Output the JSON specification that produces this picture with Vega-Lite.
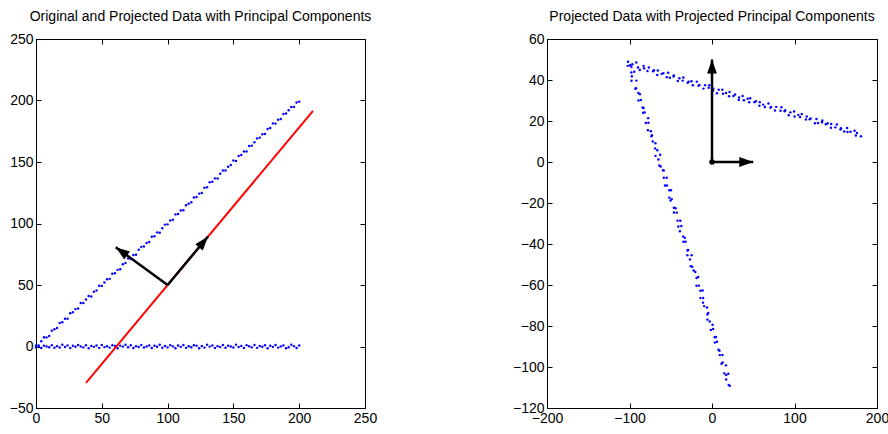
{
  "$schema": "https://vega.github.io/schema/vega-lite/v6.json",
  "padding": {"left": 8, "top": 9, "right": 2, "bottom": 0},
  "bounds": "flush",
  "spacing": 182,
  "config": {
    "view": {"stroke": "black", "strokeWidth": 1},
    "font": "Liberation Sans",
    "axis": {"grid": false, "domainColor": "black", "domainWidth": 1, "tickColor": "black", "tickSize": -5, "labelPadding": 8, "labelFontSize": 14, "labelColor": "black", "labelFont": "Liberation Sans", "labelFlush": false, "labelOverlap": false, "labelBound": false},
    "title": {"fontSize": 14, "font": "Liberation Sans", "fontWeight": "normal", "color": "black", "anchor": "middle", "offset": 8}
  },
  "datasets": {
    "L": [
      {"x":0,"y":0.8},{"x":2,"y":0.8},{"x":4,"y":4.3},{"x":6,"y":7.5},{"x":8,"y":7.4},{"x":10,"y":8.6},{"x":12,"y":12.9},{"x":14,"y":14.1},{"x":16,"y":15.1},{"x":18,"y":19.2},{"x":20,"y":19.7},{"x":22,"y":22.6},{"x":24,"y":22.5},{"x":26,"y":27.0},{"x":28,"y":27.8},{"x":30,"y":30.4},{"x":32,"y":30.9},{"x":34,"y":35.3},{"x":36,"y":35.3},{"x":38,"y":38.2},{"x":40,"y":41.1},{"x":42,"y":40.7},{"x":44,"y":44.5},{"x":46,"y":45.6},{"x":48,"y":49.4},{"x":50,"y":49.2},{"x":52,"y":52.0},{"x":54,"y":54.7},{"x":56,"y":55.0},{"x":58,"y":59.2},{"x":60,"y":59.5},{"x":62,"y":62.3},{"x":64,"y":62.8},{"x":66,"y":66.9},{"x":68,"y":67.9},{"x":70,"y":71.5},{"x":72,"y":71.1},{"x":74,"y":74.4},{"x":76,"y":74.6},{"x":78,"y":78.6},{"x":80,"y":81.0},{"x":82,"y":81.4},{"x":84,"y":84.2},{"x":86,"y":84.9},{"x":88,"y":89.3},{"x":90,"y":89.7},{"x":92,"y":92.8},{"x":94,"y":92.5},{"x":96,"y":96.1},{"x":98,"y":99.1},{"x":100,"y":99.3},{"x":102,"y":102.5},{"x":104,"y":103.0},{"x":106,"y":107.4},{"x":108,"y":107.8},{"x":110,"y":110.6},{"x":112,"y":110.7},{"x":114,"y":114.9},{"x":116,"y":116.0},{"x":118,"y":117.2},{"x":120,"y":121.2},{"x":122,"y":121.6},{"x":124,"y":124.3},{"x":126,"y":124.8},{"x":128,"y":129.0},{"x":130,"y":129.4},{"x":132,"y":133.5},{"x":134,"y":133.9},{"x":136,"y":136.7},{"x":138,"y":136.6},{"x":140,"y":140.4},{"x":142,"y":143.1},{"x":144,"y":143.1},{"x":146,"y":146.2},{"x":148,"y":147.5},{"x":150,"y":151.3},{"x":152,"y":150.9},{"x":154,"y":154.8},{"x":156,"y":155.7},{"x":158,"y":158.5},{"x":160,"y":158.5},{"x":162,"y":163.0},{"x":164,"y":163.3},{"x":166,"y":166.1},{"x":168,"y":169.2},{"x":170,"y":169.8},{"x":172,"y":172.6},{"x":174,"y":172.7},{"x":176,"y":176.9},{"x":178,"y":177.6},{"x":180,"y":181.4},{"x":182,"y":181.2},{"x":184,"y":184.3},{"x":186,"y":185.0},{"x":188,"y":189.1},{"x":190,"y":189.4},{"x":192,"y":192.0},{"x":194,"y":194.7},{"x":196,"y":194.8},{"x":198,"y":198.4},{"x":200,"y":199.1},
      {"x":0,"y":-0.9},{"x":2,"y":0.4},{"x":4,"y":-1.2},{"x":6,"y":0.7},{"x":8,"y":0.0},{"x":10,"y":-0.6},{"x":12,"y":1.1},{"x":14,"y":-1.0},{"x":16,"y":0.3},{"x":18,"y":-0.8},{"x":20,"y":1.4},{"x":22,"y":-0.4},{"x":24,"y":0.9},{"x":26,"y":-1.3},{"x":28,"y":0.6},{"x":30,"y":-0.2},{"x":32,"y":1.2},{"x":34,"y":0.1},{"x":36,"y":-0.7},{"x":38,"y":1.0},{"x":40,"y":-1.5},{"x":42,"y":0.5},{"x":44,"y":-0.3},{"x":46,"y":0.8},{"x":48,"y":-1.1},{"x":50,"y":1.3},{"x":52,"y":-0.5},{"x":54,"y":0.2},{"x":56,"y":-0.9},{"x":58,"y":1.1},{"x":60,"y":0.4},{"x":62,"y":-1.4},{"x":64,"y":0.7},{"x":66,"y":-0.1},{"x":68,"y":1.5},{"x":70,"y":-0.6},{"x":72,"y":1.0},{"x":74,"y":-1.2},{"x":76,"y":0.3},{"x":78,"y":-0.4},{"x":80,"y":1.2},{"x":82,"y":-0.8},{"x":84,"y":0.0},{"x":86,"y":0.9},{"x":88,"y":-1.3},{"x":90,"y":0.6},{"x":92,"y":-0.2},{"x":94,"y":1.4},{"x":96,"y":-1.0},{"x":98,"y":0.5},{"x":100,"y":-0.7},{"x":102,"y":1.1},{"x":104,"y":0.1},{"x":106,"y":-1.5},{"x":108,"y":0.8},{"x":110,"y":-0.3},{"x":112,"y":1.3},{"x":114,"y":-1.1},{"x":116,"y":0.2},{"x":118,"y":-0.6},{"x":120,"y":1.0},{"x":122,"y":0.6},{"x":124,"y":-1.4},{"x":126,"y":0.4},{"x":128,"y":-0.9},{"x":130,"y":1.5},{"x":132,"y":-0.1},{"x":134,"y":0.9},{"x":136,"y":-1.2},{"x":138,"y":0.3},{"x":140,"y":-0.5},{"x":142,"y":1.2},{"x":144,"y":-1.0},{"x":146,"y":0.7},{"x":148,"y":0.0},{"x":150,"y":-0.8},{"x":152,"y":1.4},{"x":154,"y":-0.4},{"x":156,"y":0.5},{"x":158,"y":-1.3},{"x":160,"y":1.1},{"x":162,"y":0.2},{"x":164,"y":-0.7},{"x":166,"y":1.3},{"x":168,"y":-1.1},{"x":170,"y":0.4},{"x":172,"y":-0.2},{"x":174,"y":1.0},{"x":176,"y":-1.5},{"x":178,"y":0.6},{"x":180,"y":-0.3},{"x":182,"y":1.2},{"x":184,"y":-0.9},{"x":186,"y":0.1},{"x":188,"y":0.9},{"x":190,"y":-1.4},{"x":192,"y":-0.6},{"x":194,"y":1.5},{"x":196,"y":0.3},{"x":198,"y":-1.2},{"x":200,"y":0.8}
    ],
    "LR": [{"x":38,"y":-29.5},{"x":210.5,"y":191.6}],
    "LA": [{"x0":100,"y0":50,"x1":130.7,"y1":89.4,"ang":39.8},{"x0":100,"y0":50,"x1":60.6,"y1":80.75,"ang":-53.9}],
    "R": [
      {"x":-101.8,"y":48.9},{"x":-97.7,"y":46.5},{"x":-96.5,"y":47.7},{"x":-91.8,"y":48.5},{"x":-89.7,"y":46.1},{"x":-87.5,"y":44.9},{"x":-83.0,"y":46.9},{"x":-82.3,"y":45.7},{"x":-78.2,"y":44.4},{"x":-76.5,"y":46.1},{"x":-71.4,"y":44.3},{"x":-70.4,"y":44.8},{"x":-66.3,"y":42.4},{"x":-65.7,"y":44.6},{"x":-61.0,"y":43.0},{"x":-59.0,"y":43.3},{"x":-54.8,"y":41.4},{"x":-53.1,"y":43.5},{"x":-51.1,"y":41.1},{"x":-46.6,"y":41.7},{"x":-46.3,"y":42.2},{"x":-41.5,"y":39.5},{"x":-39.5,"y":40.9},{"x":-35.6,"y":39.7},{"x":-34.7,"y":41.2},{"x":-29.5,"y":38.6},{"x":-28.4,"y":39.1},{"x":-24.9,"y":39.4},{"x":-23.2,"y":37.4},{"x":-18.4,"y":39.2},{"x":-16.3,"y":37.2},{"x":-15.3,"y":37.6},{"x":-10.4,"y":35.8},{"x":-8.4,"y":37.5},{"x":-4.0,"y":36.2},{"x":-3.3,"y":37.4},{"x":1.1,"y":34.7},{"x":1.7,"y":35.7},{"x":6.0,"y":33.5},{"x":8.1,"y":35.2},{"x":12.5,"y":35.2},{"x":13.4,"y":33.3},{"x":17.0,"y":33.7},{"x":20.7,"y":32.1},{"x":21.3,"y":34.1},{"x":26.0,"y":32.2},{"x":28.0,"y":32.9},{"x":32.4,"y":30.3},{"x":32.8,"y":31.5},{"x":37.1,"y":32.2},{"x":38.7,"y":30.1},{"x":43.3,"y":30.9},{"x":45.1,"y":29.1},{"x":46.3,"y":31.1},{"x":51.4,"y":29.2},{"x":53.1,"y":29.6},{"x":57.5,"y":27.4},{"x":57.9,"y":29.2},{"x":62.1,"y":28.0},{"x":64.1,"y":26.8},{"x":68.5,"y":28.5},{"x":70.9,"y":26.5},{"x":71.7,"y":26.9},{"x":76.3,"y":25.1},{"x":77.8,"y":26.9},{"x":83.0,"y":25.0},{"x":84.2,"y":26.7},{"x":88.0,"y":24.8},{"x":88.7,"y":25.2},{"x":93.0,"y":22.8},{"x":95.0,"y":24.2},{"x":99.5,"y":24.6},{"x":100.1,"y":22.2},{"x":104.6,"y":23.0},{"x":106.7,"y":22.0},{"x":108.8,"y":23.4},{"x":113.8,"y":20.7},{"x":114.8,"y":22.2},{"x":118.5,"y":20.8},{"x":119.5,"y":21.2},{"x":124.7,"y":18.9},{"x":126.6,"y":21.0},{"x":128.5,"y":19.0},{"x":133.3,"y":19.4},{"x":133.7,"y":20.2},{"x":138.0,"y":18.4},{"x":140.2,"y":18.9},{"x":144.2,"y":16.7},{"x":144.5,"y":18.5},{"x":149.4,"y":16.9},{"x":151.3,"y":18.3},{"x":155.7,"y":15.8},{"x":156.4,"y":16.5},{"x":160.2,"y":14.9},{"x":163.8,"y":16.6},{"x":164.3,"y":14.6},{"x":167.9,"y":14.8},{"x":172.8,"y":15.2},{"x":174.4,"y":12.9},{"x":175.7,"y":14.2},{"x":180.5,"y":12.6},
      {"x":-99.3,"y":47.2},{"x":-102.1,"y":46.9},{"x":-97.8,"y":43.7},{"x":-94.2,"y":44.0},{"x":-97.2,"y":41.8},{"x":-97.6,"y":39.6},{"x":-91.7,"y":39.7},{"x":-92.1,"y":36.0},{"x":-92.9,"y":35.7},{"x":-87.4,"y":33.1},{"x":-89.2,"y":33.7},{"x":-86.2,"y":30.3},{"x":-89.1,"y":30.0},{"x":-82.9,"y":26.3},{"x":-84.1,"y":26.6},{"x":-81.7,"y":24.2},{"x":-83.4,"y":24.0},{"x":-77.4,"y":21.4},{"x":-80.2,"y":19.0},{"x":-77.1,"y":19.1},{"x":-74.1,"y":15.0},{"x":-77.7,"y":15.5},{"x":-72.8,"y":13.1},{"x":-73.4,"y":12.6},{"x":-68.6,"y":9.1},{"x":-71.8,"y":10.0},{"x":-68.9,"y":6.6},{"x":-66.3,"y":5.7},{"x":-68.5,"y":3.0},{"x":-62.8,"y":3.5},{"x":-65.0,"y":1.2},{"x":-62.2,"y":-2.2},{"x":-63.9,"y":-1.7},{"x":-58.5,"y":-4.1},{"x":-59.3,"y":-4.0},{"x":-54.9,"y":-7.7},{"x":-58.4,"y":-7.7},{"x":-54.6,"y":-11.5},{"x":-57.0,"y":-11.5},{"x":-51.7,"y":-13.8},{"x":-49.7,"y":-13.8},{"x":-51.7,"y":-17.4},{"x":-48.8,"y":-18.1},{"x":-50.2,"y":-18.8},{"x":-44.2,"y":-22.6},{"x":-46.2,"y":-22.3},{"x":-42.7,"y":-24.7},{"x":-46.1,"y":-24.6},{"x":-41.7,"y":-28.6},{"x":-38.4,"y":-28.7},{"x":-40.8,"y":-31.5},{"x":-37.2,"y":-31.2},{"x":-38.9,"y":-33.8},{"x":-32.9,"y":-37.0},{"x":-34.9,"y":-36.3},{"x":-32.1,"y":-38.9},{"x":-34.6,"y":-38.9},{"x":-29.0,"y":-42.9},{"x":-29.6,"y":-43.2},{"x":-29.9,"y":-45.5},{"x":-24.7,"y":-45.5},{"x":-26.7,"y":-47.5},{"x":-24.0,"y":-51.1},{"x":-25.8,"y":-50.8},{"x":-20.2,"y":-53.7},{"x":-22.2,"y":-52.9},{"x":-16.7,"y":-56.1},{"x":-18.7,"y":-56.6},{"x":-15.9,"y":-60.3},{"x":-18.8,"y":-60.4},{"x":-14.0,"y":-62.8},{"x":-11.4,"y":-62.7},{"x":-14.1,"y":-66.4},{"x":-10.7,"y":-66.3},{"x":-10.9,"y":-68.6},{"x":-6.1,"y":-71.0},{"x":-9.6,"y":-70.3},{"x":-4.6,"y":-73.7},{"x":-5.6,"y":-74.4},{"x":-2.7,"y":-77.8},{"x":-5.5,"y":-76.9},{"x":0.7,"y":-79.4},{"x":-1.4,"y":-81.9},{"x":1.4,"y":-81.5},{"x":4.8,"y":-85.4},{"x":3.3,"y":-85.5},{"x":6.1,"y":-87.7},{"x":3.5,"y":-88.1},{"x":9.1,"y":-92.1},{"x":7.8,"y":-91.6},{"x":12.6,"y":-94.1},{"x":9.4,"y":-94.2},{"x":12.9,"y":-97.8},{"x":11.5,"y":-98.4},{"x":16.9,"y":-99.2},{"x":14.8,"y":-103.1},{"x":17.2,"y":-103.9},{"x":19.8,"y":-103.3},{"x":17.2,"y":-106.1},{"x":21.7,"y":-109.2},{"x":20.3,"y":-108.8}
    ],
    "RA": [{"x0":0,"y0":0,"x1":50,"y1":0,"ang":90},{"x0":0,"y0":0,"x1":0,"y1":50,"ang":0}],
    "RO": [{"x":0,"y":0}]
  },
  "hconcat": [
    {
      "width": 329, "height": 369,
      "title": {"text": "Original and Projected Data with Principal Components"},
      "resolve": {"axis": {"x": "independent", "y": "independent"}},
      "layer": [
        {
          "data": {"name": "L"},
          "mark": {"type": "point", "filled": true, "shape": "circle", "size": 6, "color": "#0000ff", "opacity": 1},
          "encoding": {
            "x": {"field": "x", "type": "quantitative", "scale": {"domain": [0, 250], "nice": false, "zero": false}, "axis": {"values": [0, 50, 100, 150, 200, 250], "title": null}},
            "y": {"field": "y", "type": "quantitative", "scale": {"domain": [-50, 250], "nice": false, "zero": false}, "axis": {"values": [-50, 0, 50, 100, 150, 200, 250], "title": null}}
          }
        },
        {
          "data": {"name": "LR"},
          "mark": {"type": "line", "color": "#ff0000", "strokeWidth": 2},
          "encoding": {
            "x": {"field": "x", "type": "quantitative", "axis": {"orient": "top", "values": [0, 50, 100, 150, 200, 250], "labels": false, "title": null}},
            "y": {"field": "y", "type": "quantitative", "axis": {"orient": "right", "values": [-50, 0, 50, 100, 150, 200, 250], "labels": false, "title": null}}
          }
        },
        {
          "data": {"name": "LA"},
          "mark": {"type": "rule", "color": "black", "strokeWidth": 2.5},
          "encoding": {
            "x": {"field": "x0", "type": "quantitative", "axis": null},
            "y": {"field": "y0", "type": "quantitative", "axis": null},
            "x2": {"field": "x1"},
            "y2": {"field": "y1"}
          }
        },
        {
          "data": {"name": "LA"},
          "mark": {"type": "point", "filled": true, "opacity": 1, "color": "black", "shape": "M0,0L-0.7,2L0.7,2Z", "size": 196},
          "encoding": {
            "x": {"field": "x1", "type": "quantitative", "axis": null},
            "y": {"field": "y1", "type": "quantitative", "axis": null},
            "angle": {"field": "ang", "type": "quantitative", "scale": null}
          }
        }
      ]
    },
    {
      "width": 330, "height": 369,
      "title": {"text": "Projected Data with Projected Principal Components"},
      "resolve": {"axis": {"x": "independent", "y": "independent"}},
      "layer": [
        {
          "data": {"name": "R"},
          "mark": {"type": "point", "filled": true, "shape": "circle", "size": 6, "color": "#0000ff", "opacity": 1},
          "encoding": {
            "x": {"field": "x", "type": "quantitative", "scale": {"domain": [-200, 200], "nice": false, "zero": false}, "axis": {"values": [-200, -100, 0, 100, 200], "title": null}},
            "y": {"field": "y", "type": "quantitative", "scale": {"domain": [-120, 60], "nice": false, "zero": false}, "axis": {"values": [-120, -100, -80, -60, -40, -20, 0, 20, 40, 60], "title": null}}
          }
        },
        {
          "data": {"name": "RA"},
          "mark": {"type": "rule", "color": "black", "strokeWidth": 2.5},
          "encoding": {
            "x": {"field": "x0", "type": "quantitative", "axis": {"orient": "top", "values": [-200, -100, 0, 100, 200], "labels": false, "title": null}},
            "y": {"field": "y0", "type": "quantitative", "axis": {"orient": "right", "values": [-120, -100, -80, -60, -40, -20, 0, 20, 40, 60], "labels": false, "title": null}},
            "x2": {"field": "x1"},
            "y2": {"field": "y1"}
          }
        },
        {
          "data": {"name": "RA"},
          "mark": {"type": "point", "filled": true, "opacity": 1, "color": "black", "shape": "M0,0L-0.7,2L0.7,2Z", "size": 196},
          "encoding": {
            "x": {"field": "x1", "type": "quantitative", "axis": null},
            "y": {"field": "y1", "type": "quantitative", "axis": null},
            "angle": {"field": "ang", "type": "quantitative", "scale": null}
          }
        },
        {
          "data": {"name": "RO"},
          "mark": {"type": "point", "filled": true, "opacity": 1, "color": "black", "shape": "circle", "size": 30},
          "encoding": {
            "x": {"field": "x", "type": "quantitative", "axis": null},
            "y": {"field": "y", "type": "quantitative", "axis": null}
          }
        }
      ]
    }
  ]
}
